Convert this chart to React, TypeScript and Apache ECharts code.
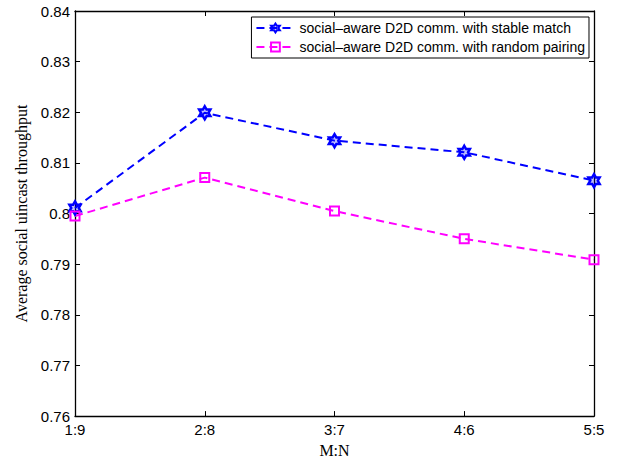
import React, { useEffect, useRef } from "react";
import * as echarts from "echarts";

const categories = ["1:9", "2:8", "3:7", "4:6", "5:5"];
const stableMatch = [0.8011, 0.8199, 0.8144, 0.8121, 0.8065];
const randomPairing = [0.7995, 0.8071, 0.8005, 0.795, 0.7909];
const yTicks = { min: 0.76, max: 0.84, interval: 0.01 };
const seriesNames = [
  "social\u2013aware D2D comm. with stable match",
  "social\u2013aware D2D comm. with random pairing",
];

const hexagram =
  "path://M50 0 L64.4 25 L93.3 25 L78.9 50 L93.3 75 L64.4 75 L50 100 L35.6 75 L6.7 75 L21.1 50 L6.7 25 L35.6 25 Z";

export default function App() {
  const ref = useRef<HTMLDivElement>(null);
  useEffect(() => {
    if (!ref.current) return;
    const chart = echarts.init(ref.current, undefined, { renderer: "svg" });
    const tickFont = { fontFamily: "Liberation Sans, Arial, sans-serif", fontSize: 15, color: "#000" };
    chart.setOption({
      animation: false,
      backgroundColor: "#fff",
      grid: { left: 75, right: 33, top: 11, bottom: 43, containLabel: false },
      legend: {
        orient: "vertical",
        right: 38,
        top: 17,
        backgroundColor: "#fff",
        borderColor: "#000",
        borderWidth: 1,
        borderRadius: 0,
        padding: [4, 4, 4, 4],
        itemGap: 5,
        itemWidth: 38,
        itemHeight: 11,
        textStyle: { fontFamily: "Liberation Sans, Arial, sans-serif", fontSize: 14, color: "#000" },
        data: seriesNames,
      },
      xAxis: [
        {
          type: "category",
          data: categories,
          boundaryGap: false,
          position: "bottom",
          name: "M:N",
          nameLocation: "middle",
          nameGap: 25,
          nameTextStyle: { fontFamily: "Liberation Serif, Times New Roman, serif", fontSize: 16, color: "#000" },
          axisLine: { lineStyle: { color: "#000", width: 1.3 } },
          axisTick: { inside: true, length: 5, lineStyle: { color: "#000" }, alignWithLabel: true },
          axisLabel: { ...tickFont, margin: 6 },
          splitLine: { show: false },
        },
        {
          type: "category",
          data: categories,
          boundaryGap: false,
          position: "top",
          axisLine: { lineStyle: { color: "#000", width: 1.3 } },
          axisTick: { inside: true, length: 5, lineStyle: { color: "#000" } },
          axisLabel: { show: false },
          splitLine: { show: false },
        },
      ],
      yAxis: [
        {
          type: "value",
          min: yTicks.min,
          max: yTicks.max,
          interval: yTicks.interval,
          position: "left",
          name: "Average social uincast throughput",
          nameLocation: "middle",
          nameGap: 46,
          nameTextStyle: { fontFamily: "Liberation Serif, Times New Roman, serif", fontSize: 16, color: "#000" },
          axisLine: { show: true, lineStyle: { color: "#000", width: 1.3 } },
          axisTick: { show: true, inside: true, length: 5, lineStyle: { color: "#000" } },
          axisLabel: {
            ...tickFont,
            margin: 5,
            formatter: (v: number) => {
              const s = v.toFixed(2);
              return s === "0.80" ? "0.8" : s;
            },
          },
          splitLine: { show: false },
        },
        {
          type: "value",
          min: yTicks.min,
          max: yTicks.max,
          interval: yTicks.interval,
          position: "right",
          axisLine: { show: true, lineStyle: { color: "#000", width: 1.3 } },
          axisTick: { show: true, inside: true, length: 5, lineStyle: { color: "#000" } },
          axisLabel: { show: false },
          splitLine: { show: false },
        },
      ],
      series: [
        {
          name: seriesNames[0],
          type: "line",
          data: stableMatch,
          symbol: hexagram,
          symbolSize: 13,
          symbolKeepAspect: true,
          z: 3,
          lineStyle: { color: "#0000ff", width: 2, type: [8, 5] },
          itemStyle: { color: "rgba(0,0,255,0.25)", borderColor: "#0000ff", borderWidth: 2.5 },
        },
        {
          name: seriesNames[1],
          type: "line",
          data: randomPairing,
          symbol: "rect",
          symbolSize: 9,
          lineStyle: { color: "#ff00ff", width: 2, type: [8, 5] },
          itemStyle: { color: "rgba(255,255,255,0)", borderColor: "#ff00ff", borderWidth: 2 },
        },
      ],
    });
    return () => chart.dispose();
  }, []);
  return <div ref={ref} style={{ width: 627, height: 463, position: "absolute", left: 0, top: 0 }} />;
}
